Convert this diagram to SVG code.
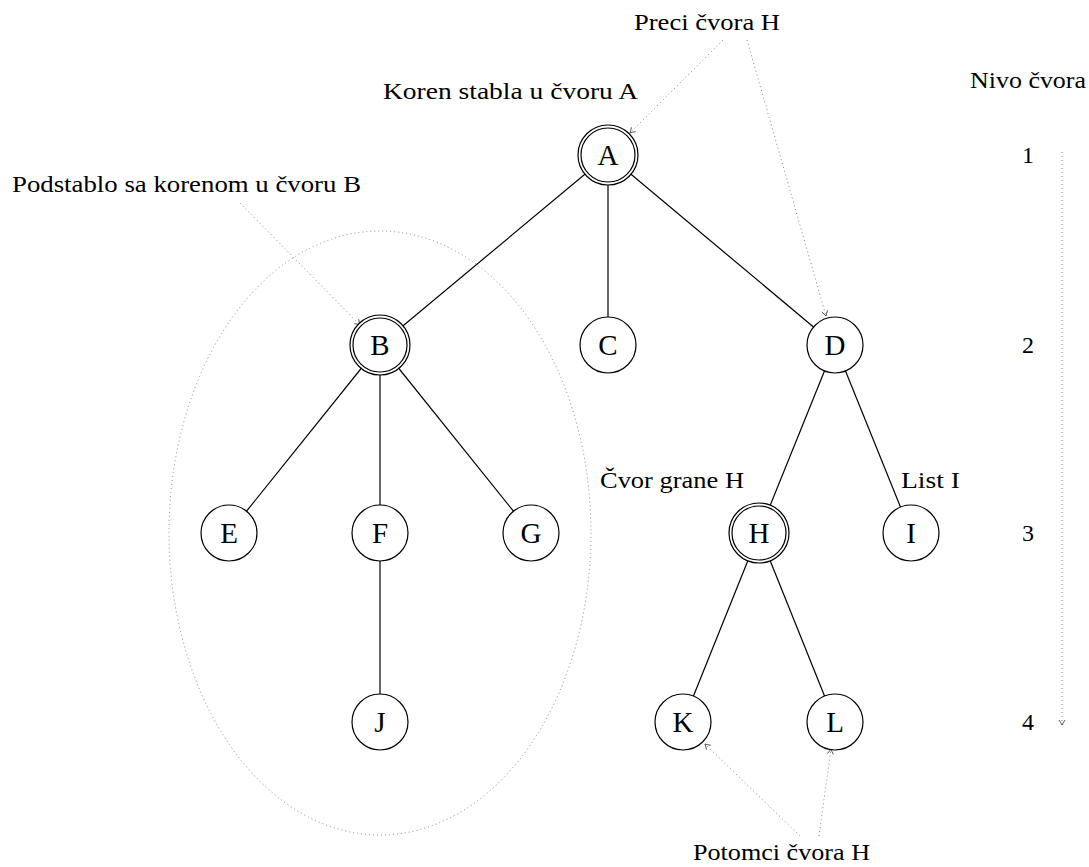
<svg xmlns="http://www.w3.org/2000/svg" width="1089" height="867" viewBox="0 0 1089 867">
<style>
.n{fill:#fff;stroke:#000;stroke-width:1.2}
.e{stroke:#000;stroke-width:1.2;fill:none}
.d{stroke:#888;stroke-width:1;stroke-dasharray:1 3;fill:none}
.t{font-family:"Liberation Serif","DejaVu Serif",serif;font-size:23px;fill:#000}
.v{font-family:"Liberation Serif","DejaVu Serif",serif;font-size:24px;fill:#000;text-anchor:middle}
.l{font-family:"Liberation Serif","DejaVu Serif",serif;font-size:29px;fill:#000;text-anchor:middle}
</style>
<defs>
<marker id="ah" markerWidth="8" markerHeight="8" refX="6" refY="4" orient="auto" markerUnits="userSpaceOnUse">
<path d="M1,1 Q4,3 6,4 Q4,5 1,7" fill="none" stroke="#333" stroke-width="0.8"/>
</marker>
</defs>
<rect width="1089" height="867" fill="#fff"/>
<g id="connectors">
<line class="e" x1="608" y1="155" x2="380" y2="345"/>
<line class="e" x1="608" y1="155" x2="608" y2="345"/>
<line class="e" x1="608" y1="155" x2="835" y2="345"/>
<line class="e" x1="380" y1="345" x2="229" y2="533"/>
<line class="e" x1="380" y1="345" x2="380" y2="533"/>
<line class="e" x1="380" y1="345" x2="531" y2="533"/>
<line class="e" x1="380" y1="533" x2="380" y2="722"/>
<line class="e" x1="835" y1="345" x2="759" y2="533"/>
<line class="e" x1="835" y1="345" x2="911" y2="533"/>
<line class="e" x1="759" y1="533" x2="683" y2="722"/>
<line class="e" x1="759" y1="533" x2="835" y2="722"/>
<ellipse class="d" cx="380" cy="533" rx="211" ry="302"/>
<line class="d" x1="723" y1="40" x2="630" y2="133" marker-end="url(#ah)"/>
<line class="d" x1="747" y1="40" x2="826" y2="316" marker-end="url(#ah)"/>
<line class="d" x1="240" y1="203" x2="360" y2="325" marker-end="url(#ah)"/>
<line class="d" x1="800" y1="836" x2="705" y2="744" marker-end="url(#ah)"/>
<line class="d" x1="819" y1="836" x2="831" y2="749" marker-end="url(#ah)"/>
<line class="d" x1="1062" y1="152" x2="1062" y2="725" marker-end="url(#ah)"/>
</g>
<g id="A"><circle class="n" cx="608" cy="155" r="30"/><circle class="n" cx="608" cy="155" r="27"/><text class="l" x="608" y="165">A</text></g>
<g id="B"><circle class="n" cx="380" cy="345" r="30"/><circle class="n" cx="380" cy="345" r="27"/><text class="l" x="380" y="355">B</text></g>
<g id="C"><circle class="n" cx="608" cy="345" r="28"/><text class="l" x="608" y="355">C</text></g>
<g id="D"><circle class="n" cx="835" cy="345" r="28"/><text class="l" x="835" y="355">D</text></g>
<g id="E"><circle class="n" cx="229" cy="533" r="28"/><text class="l" x="229" y="543">E</text></g>
<g id="F"><circle class="n" cx="380" cy="533" r="28"/><text class="l" x="380" y="543">F</text></g>
<g id="G"><circle class="n" cx="531" cy="533" r="28"/><text class="l" x="531" y="543">G</text></g>
<g id="H"><circle class="n" cx="759" cy="533" r="30"/><circle class="n" cx="759" cy="533" r="27"/><text class="l" x="759" y="543">H</text></g>
<g id="I"><circle class="n" cx="911" cy="533" r="28"/><text class="l" x="911" y="543">I</text></g>
<g id="J"><circle class="n" cx="380" cy="722" r="28"/><text class="l" x="380" y="732">J</text></g>
<g id="K"><circle class="n" cx="683" cy="722" r="28"/><text class="l" x="683" y="732">K</text></g>
<g id="L"><circle class="n" cx="835" cy="722" r="28"/><text class="l" x="835" y="732">L</text></g>
<g id="labels">
<text class="t" x="634" y="30" textLength="146" lengthAdjust="spacingAndGlyphs">Preci čvora H</text>
<text class="t" x="383" y="99" textLength="255" lengthAdjust="spacingAndGlyphs">Koren stabla u čvoru A</text>
<text class="t" x="12" y="192" textLength="349" lengthAdjust="spacingAndGlyphs">Podstablo sa korenom u čvoru B</text>
<text class="t" x="970" y="88" textLength="116" lengthAdjust="spacingAndGlyphs">Nivo čvora</text>
<text class="t" x="600" y="488" textLength="144" lengthAdjust="spacingAndGlyphs">Čvor grane H</text>
<text class="t" x="901" y="488" textLength="59" lengthAdjust="spacingAndGlyphs">List I</text>
<text class="t" x="693" y="860" textLength="177" lengthAdjust="spacingAndGlyphs">Potomci čvora H</text>
<text class="v" x="1028" y="163">1</text>
<text class="v" x="1028" y="353">2</text>
<text class="v" x="1028" y="541">3</text>
<text class="v" x="1028" y="730">4</text>
</g>
</svg>
